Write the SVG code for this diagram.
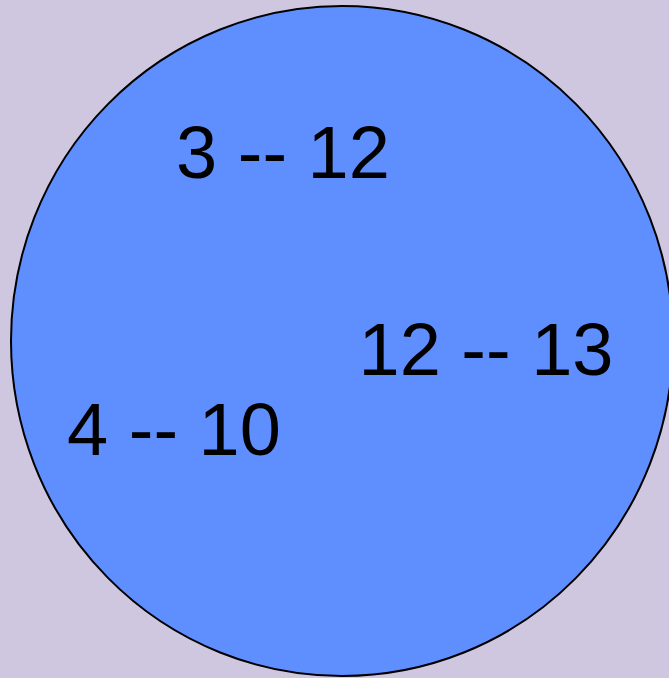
<svg xmlns="http://www.w3.org/2000/svg" width="669" height="678" viewBox="0 0 669 678">
<style>
.lbl{font-family:"Liberation Sans",Arial,sans-serif;font-size:74px;fill:#000;text-anchor:middle}
</style>
<rect x="0" y="0" width="669" height="678" fill="#cfc7df"/>
<g id="cluster">
<ellipse cx="342" cy="341" rx="331" ry="335" fill="#5f8fff" stroke="#000" stroke-width="2"/>
</g>
<g id="n1"><text class="lbl" x="283" y="178">3 -- 12</text></g>
<g id="n2"><text class="lbl" x="486" y="375">12 -- 13</text></g>
<g id="n3"><text class="lbl" x="174" y="455">4 -- 10</text></g>
<g id="connectors"></g>
</svg>
